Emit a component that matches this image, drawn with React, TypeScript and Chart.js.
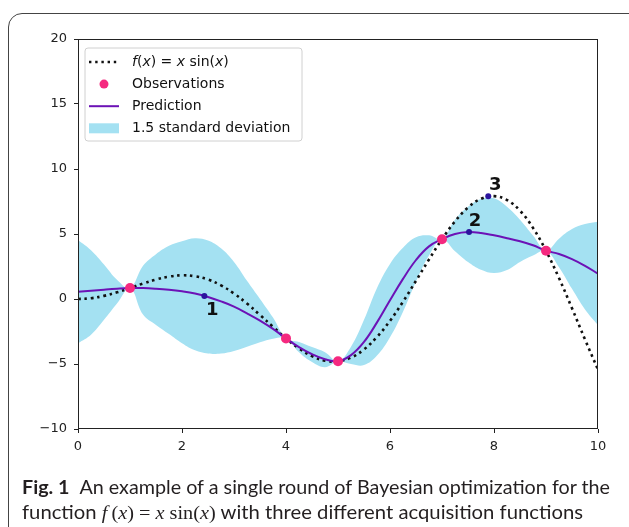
import React, { useEffect, useRef } from "react";
import { Chart, registerables } from "chart.js";

Chart.register(...registerables);

// ---------------- data ----------------
const xGrid = [0, 0.25, 0.5, 0.75, 1, 1.25, 1.5, 1.75, 2, 2.25, 2.5, 2.75, 3, 3.25, 3.5, 3.75, 4, 4.25, 4.5, 4.75, 5, 5.25, 5.5, 5.75, 6, 6.25, 6.5, 6.75, 7, 7.25, 7.5, 7.75, 8, 8.25, 8.5, 8.75, 9, 9.25, 9.5, 9.75, 10];

const fValues = [0, 0.06, 0.24, 0.51, 0.84, 1.19, 1.5, 1.72, 1.82, 1.75, 1.5, 1.05, 0.42, -0.35, -1.23, -2.14, -3.03, -3.8, -4.4, -4.75, -4.79, -4.51, -3.88, -2.92, -1.68, -0.21, 1.4, 3.04, 4.6, 5.97, 7.04, 7.71, 7.91, 7.61, 6.79, 5.47, 3.71, 1.61, -0.71, -3.11, -5.44];

const predValues = [0.56, 0.64, 0.72, 0.79, 0.84, 0.84, 0.79, 0.71, 0.59, 0.42, 0.16, -0.18, -0.58, -1.1, -1.66, -2.3, -3.03, -3.7, -4.25, -4.64, -4.79, -4.32, -3.3, -1.8, -0.1, 1.55, 3.0, 4.05, 4.6, 5.0, 5.15, 5.08, 4.9, 4.68, 4.44, 4.13, 3.72, 3.46, 3.07, 2.55, 1.95];

const upperValues = [4.54, 3.75, 2.65, 1.48, 0.84, 2.55, 3.45, 4.1, 4.45, 4.68, 4.5, 3.9, 2.85, 1.4, 0.0, -1.43, -3.03, -3.3, -3.7, -4.1, -4.79, -3.67, -1.6, 0.85, 2.7, 3.95, 4.75, 4.9, 4.6, 6.1, 7.1, 7.7, 7.75, 7.1, 6.1, 4.88, 3.72, 4.64, 5.38, 5.76, 5.95];

const lowerValues = [-3.41, -2.75, -1.6, -0.35, 0.84, -1.2, -2.0, -2.7, -3.4, -3.95, -4.2, -4.2, -4.0, -3.67, -3.32, -3.05, -3.03, -4.1, -4.85, -5.25, -4.79, -5.0, -5.08, -4.35, -2.95, -0.98, 1.35, 3.35, 4.6, 3.68, 2.85, 2.25, 2.0, 2.23, 2.85, 3.35, 3.72, 2.45, 0.78, -0.8, -2.0];

const obsX = [1, 4, 5, 7, 9];
const obsY = [0.84, -3.03, -4.79, 4.6, 3.71];

const acqX = [2.43, 7.52, 7.89];
const acqY = [0.23, 5.15, 7.9];
const acqLabels = ["1", "2", "3"];

const xTicks = [0, 2, 4, 6, 8, 10];
const yTicks = [-10, -5, 0, 5, 10, 15, 20];

const legendLabels = ["f(x) = x sin(x)", "Observations", "Prediction", "1.5 standard deviation"];

const captionLine1Bold = "Fig. 1";
const captionLine1 = "An example of a single round of Bayesian optimization for the";
const captionLine2a = "function ";
const captionLine2b = " with three different acquisition functions";

// ---------------- styles ----------------
const FONT = "'DejaVu Sans'";
const BAND = "#a4e1f2";
const PURPLE = "#6c12b6";
const PINK = "#f5297f";
const ACQ = "#2b149e";

const toXY = (xs: number[], ys: number[]) => xs.map((x, i) => ({ x, y: ys[i] }));

const minus = (v: number) => (v < 0 ? "\u2212" + Math.abs(v) : String(v));

function drawMathLabel(ctx: CanvasRenderingContext2D, text: string, x: number, y: number, size: number) {
  let cx = x;
  for (let i = 0; i < text.length; i++) {
    const ch = text[i];
    const italic = ch === "f" || ch === "x";
    ctx.font = `${italic ? "italic " : ""}${size}px ${FONT}`;
    ctx.fillText(ch, cx, y);
    cx += ctx.measureText(ch).width;
  }
}

const framePlugin = {
  id: "frame",
  afterDatasetsDraw(chart: any) {
    const { ctx, chartArea } = chart;
    const { left, top, right, bottom } = chartArea;
    ctx.save();
    ctx.strokeStyle = "#222";
    ctx.lineWidth = 1;
    ctx.strokeRect(Math.round(left) + 0.5, Math.round(top) + 0.5, Math.round(right - left) - 1, Math.round(bottom - top) - 1);
    ctx.restore();
  },
};

const acqLabelPlugin = {
  id: "acqLabels",
  afterDatasetsDraw(chart: any) {
    const { ctx, scales } = chart;
    const offsets = [
      [8, 14],
      [6, -11],
      [7, -11],
    ];
    ctx.save();
    ctx.fillStyle = "#111";
    ctx.font = `bold 18px ${FONT}`;
    ctx.textAlign = "center";
    ctx.textBaseline = "middle";
    acqLabels.forEach((lab, i) => {
      const px = scales.x.getPixelForValue(acqX[i]);
      const py = scales.y.getPixelForValue(acqY[i]);
      const o = offsets[i] || [6, -11];
      ctx.fillText(lab, px + o[0], py + o[1]);
    });
    ctx.restore();
  },
};

const legendPlugin = {
  id: "insideLegend",
  afterDraw(chart: any) {
    const { ctx, chartArea } = chart;
    const bx = chartArea.left + 7;
    const by = chartArea.top + 9;
    const bw = 217;
    const bh = 93;
    ctx.save();
    ctx.beginPath();
    const r = 3;
    ctx.moveTo(bx + r, by);
    ctx.lineTo(bx + bw - r, by);
    ctx.arcTo(bx + bw, by, bx + bw, by + r, r);
    ctx.lineTo(bx + bw, by + bh - r);
    ctx.arcTo(bx + bw, by + bh, bx + bw - r, by + bh, r);
    ctx.lineTo(bx + r, by + bh);
    ctx.arcTo(bx, by + bh, bx, by + bh - r, r);
    ctx.lineTo(bx, by + r);
    ctx.arcTo(bx, by, bx + r, by, r);
    ctx.closePath();
    ctx.fillStyle = "rgba(255,255,255,0.85)";
    ctx.fill();
    ctx.strokeStyle = "#d0d0d0";
    ctx.lineWidth = 1;
    ctx.stroke();

    const h0 = bx + 4;
    const h1 = bx + 34;
    const tx = bx + 47;
    legendLabels.forEach((lab, i) => {
      const cy = by + 14 + i * 22.1;
      if (i === 0) {
        ctx.save();
        ctx.strokeStyle = "#111";
        ctx.lineWidth = 2.4;
        ctx.setLineDash([2.4, 3.8]);
        ctx.beginPath();
        ctx.moveTo(h0, cy);
        ctx.lineTo(h1, cy);
        ctx.stroke();
        ctx.restore();
      } else if (i === 1) {
        ctx.fillStyle = PINK;
        ctx.beginPath();
        ctx.arc((h0 + h1) / 2, cy, 4.5, 0, Math.PI * 2);
        ctx.fill();
      } else if (i === 2) {
        ctx.strokeStyle = PURPLE;
        ctx.lineWidth = 2;
        ctx.beginPath();
        ctx.moveTo(h0, cy);
        ctx.lineTo(h1, cy);
        ctx.stroke();
      } else {
        ctx.fillStyle = BAND;
        ctx.fillRect(h0, cy - 5, h1 - h0, 10);
      }
      ctx.fillStyle = "#111";
      ctx.textBaseline = "middle";
      ctx.textAlign = "left";
      if (i === 0) {
        drawMathLabel(ctx, lab, tx, cy, 14);
      } else {
        ctx.font = `14px ${FONT}`;
        ctx.fillText(lab, tx, cy);
      }
    });
    ctx.restore();
  },
};

export default function App() {
  const canvasRef = useRef<HTMLCanvasElement | null>(null);
  const line1Ref = useRef<HTMLSpanElement | null>(null);
  const line2Ref = useRef<HTMLSpanElement | null>(null);

  useEffect(() => {
    if (!canvasRef.current) return;
    const chart = new Chart(canvasRef.current, {
      type: "line",
      data: {
        datasets: [
          {
            label: "acq",
            type: "scatter",
            data: toXY(acqX, acqY),
            backgroundColor: ACQ,
            borderWidth: 0,
            pointRadius: 3,
            order: 0,
          } as any,
          {
            label: legendLabels[1],
            type: "scatter",
            data: toXY(obsX, obsY),
            backgroundColor: PINK,
            borderWidth: 0,
            pointRadius: 5,
            order: 1,
          } as any,
          {
            label: legendLabels[2],
            data: toXY(xGrid, predValues),
            borderColor: PURPLE,
            borderWidth: 2,
            pointRadius: 0,
            fill: false,
            tension: 0.4,
            order: 2,
          },
          {
            label: legendLabels[0],
            data: toXY(xGrid, fValues),
            borderColor: "#111",
            borderWidth: 2.6,
            borderDash: [2.6, 3.8],
            pointRadius: 0,
            fill: false,
            tension: 0.4,
            order: 3,
          },
          {
            label: legendLabels[3],
            data: toXY(xGrid, upperValues),
            borderWidth: 0,
            borderColor: "rgba(0,0,0,0)",
            backgroundColor: BAND,
            pointRadius: 0,
            fill: "+1",
            tension: 0.4,
            order: 4,
          },
          {
            label: "lower",
            data: toXY(xGrid, lowerValues),
            borderWidth: 0,
            borderColor: "rgba(0,0,0,0)",
            backgroundColor: BAND,
            pointRadius: 0,
            fill: false,
            tension: 0.4,
            order: 5,
          },
        ],
      },
      options: {
        animation: false,
        responsive: false,
        devicePixelRatio: 1,
        layout: { padding: { left: 0, top: 39, right: 31, bottom: 68 } },
        plugins: {
          legend: { display: false },
          tooltip: { enabled: false },
        },
        scales: {
          x: {
            type: "linear",
            min: 0,
            max: 10,
            afterFit: (s: any) => {
              s.height = 30;
            },
            afterBuildTicks: (s: any) => {
              s.ticks = xTicks.map((v) => ({ value: v }));
            },
            ticks: {
              color: "#222",
              font: { family: FONT, size: 13 },
              padding: 6,
              maxRotation: 0,
              callback: (v: any) => minus(Number(v)),
            },
            grid: {
              display: true,
              drawOnChartArea: false,
              drawTicks: true,
              tickLength: 4,
              color: "#222",
            },
            border: { display: false },
          },
          y: {
            type: "linear",
            min: -10,
            max: 20,
            afterFit: (s: any) => {
              s.width = 78;
            },
            afterBuildTicks: (s: any) => {
              s.ticks = yTicks.map((v) => ({ value: v }));
            },
            ticks: {
              color: "#222",
              font: { family: FONT, size: 13 },
              padding: 7,
              callback: (v: any) => minus(Number(v)),
            },
            grid: {
              display: true,
              drawOnChartArea: false,
              drawTicks: true,
              tickLength: 4,
              color: "#222",
            },
            border: { display: false },
          },
        },
      },
      plugins: [framePlugin, acqLabelPlugin, legendPlugin],
    } as any);
    return () => chart.destroy();
  }, []);

  useEffect(() => {
    const fit = () => {
      const pairs: [React.MutableRefObject<HTMLSpanElement | null>, number][] = [
        [line1Ref, 588],
        [line2Ref, 561],
      ];
      pairs.forEach(([r, w]) => {
        const el = r.current;
        if (!el) return;
        el.style.transform = "none";
        const cw = el.getBoundingClientRect().width;
        if (cw > 0) el.style.transform = `scaleX(${w / cw})`;
      });
    };
    fit();
    if ((document as any).fonts && (document as any).fonts.ready) {
      (document as any).fonts.ready.then(fit);
    }
  }, []);

  const capFont = "Lato, 'Open Sans', sans-serif";
  const lineStyle: React.CSSProperties = {
    display: "inline-block",
    whiteSpace: "nowrap",
    transformOrigin: "left center",
  };
  const mathI: React.CSSProperties = { fontFamily: "'Liberation Serif', serif", fontStyle: "italic" };
  const mathR: React.CSSProperties = { fontFamily: "'Liberation Serif', serif" };

  return (
    <div style={{ position: "fixed", left: 0, top: 0, width: 629, height: 527, overflow: "hidden", background: "#fff" }}>
      <div
        style={{
          position: "absolute",
          left: 8,
          top: 13,
          width: 640,
          height: 540,
          border: "1.2px solid #444",
          borderRadius: 14,
          boxSizing: "border-box",
        }}
      />
      <canvas ref={canvasRef} width={629} height={527} style={{ position: "absolute", left: 0, top: 0, width: 629, height: 527 }} />
      <div style={{ position: "absolute", left: 22, top: 474, fontFamily: capFont, fontSize: 19, lineHeight: "25px", color: "#231f20" }}>
        <div>
          <span ref={line1Ref} style={lineStyle}>
            <b style={{ fontWeight: 700 }}>{captionLine1Bold}</b>
            {"\u2002" + captionLine1}
          </span>
        </div>
        <div>
          <span ref={line2Ref} style={lineStyle}>
            {captionLine2a}
            <span style={mathI}>f</span>
            <span style={mathR}>{"\u2009("}</span>
            <span style={mathI}>x</span>
            <span style={mathR}>{") = "}</span>
            <span style={mathI}>x</span>
            <span style={mathR}>{" sin("}</span>
            <span style={mathI}>x</span>
            <span style={mathR}>{")"}</span>
            {captionLine2b}
          </span>
        </div>
      </div>
    </div>
  );
}
